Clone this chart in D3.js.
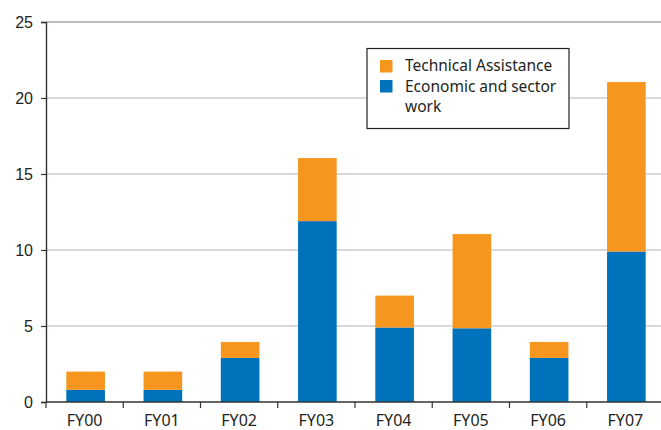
<!DOCTYPE html>
<html>
<head>
<meta charset="utf-8">
<script src="https://cdn.jsdelivr.net/npm/d3@7"></script>
<style>
  body { margin: 0; background: #fff; }
  svg { display: block; font-family: "Noto Sans", sans-serif; }
</style>
</head>
<body>
<svg width="661" height="430"></svg>
<script>
// Data
const years = ["FY00", "FY01", "FY02", "FY03", "FY04", "FY05", "FY06", "FY07"];
const economicSector = [0.8, 0.8, 2.9, 11.9, 4.9, 4.85, 2.9, 9.9];
const technicalAssist = [1.2, 1.2, 1.05, 4.15, 2.1, 6.2, 1.05, 11.15];
const yTicks = [0, 5, 10, 15, 20, 25];

const seriesNames = ["Economic and sector work", "Technical Assistance"];
const colors = { "Economic and sector work": "#0071bb", "Technical Assistance": "#f7961f" };

const svg = d3.select("svg");

// plot area
const margin = { left: 46, top: 22, bottom: 402, right: 664 };

const x = d3.scaleBand()
    .domain(years)
    .range([margin.left, margin.right])
    .paddingInner(0.5)
    .paddingOuter(0.25);

const y = d3.scaleLinear()
    .domain([0, 25])
    .range([margin.bottom, margin.top]);

// gridlines
svg.append("g")
    .selectAll("line")
    .data(yTicks.filter(d => d > 0))
    .join("line")
    .attr("x1", margin.left)
    .attr("x2", 661)
    .attr("y1", d => y(d))
    .attr("y2", d => y(d))
    .style("stroke", d => d === 25 ? "#a8a8a8" : "#cccccc")
    .style("stroke-width", "1.4px");

// stacked bars
const table = years.map((yr, i) => ({
    year: yr,
    "Economic and sector work": economicSector[i],
    "Technical Assistance": technicalAssist[i]
}));
const stacked = d3.stack().keys(seriesNames)(table);

svg.append("g")
    .selectAll("g")
    .data(stacked)
    .join("g")
    .attr("fill", d => colors[d.key])
    .selectAll("rect")
    .data(d => d)
    .join("rect")
    .attr("x", d => x(d.data.year) + 1)
    .attr("width", x.bandwidth())
    .attr("y", d => y(d[1]))
    .attr("height", d => y(d[0]) - y(d[1]));

// y axis
const yAxis = svg.append("g")
    .attr("transform", `translate(${margin.left},0)`)
    .call(d3.axisLeft(y).tickValues(yTicks).tickSize(5).tickPadding(8));
yAxis.select(".domain").attr("stroke", "#333").attr("stroke-width", 1.4);
yAxis.selectAll(".tick line").attr("stroke", "#333").attr("stroke-width", 1.2);
yAxis.selectAll("text").style("font-size", "16px").attr("fill", "#231f20");

// x axis with ticks between categories
const xAxis = svg.append("g")
    .attr("transform", `translate(0,${margin.bottom})`);
xAxis.append("line")
    .attr("x1", margin.left)
    .attr("x2", 661)
    .attr("stroke", "#333")
    .attr("stroke-width", 1.6);
const step = x.step();
xAxis.selectAll(".sep")
    .data(years)
    .join("line")
    .attr("class", "sep")
    .attr("x1", (d, i) => margin.left + i * step)
    .attr("x2", (d, i) => margin.left + i * step)
    .attr("y1", 0)
    .attr("y2", 6)
    .attr("stroke", "#333")
    .attr("stroke-width", 1.2);
xAxis.selectAll("text")
    .data(years)
    .join("text")
    .attr("x", d => x(d) + x.bandwidth() / 2)
    .attr("y", 24)
    .attr("text-anchor", "middle")
    .style("font-size", "16px")
    .attr("fill", "#231f20")
    .text(d => d);

// legend
const legend = svg.append("g");
legend.append("rect")
    .attr("x", 367)
    .attr("y", 48.5)
    .attr("width", 202)
    .attr("height", 80)
    .attr("fill", "#fff")
    .attr("stroke", "#231f20")
    .attr("stroke-width", 1.2);

const legendItems = [
    { name: "Technical Assistance", lines: ["Technical Assistance"] },
    { name: "Economic and sector work", lines: ["Economic and sector", "work"] }
];
legendItems.forEach((item, i) => {
    legend.append("rect")
        .attr("x", 380)
        .attr("y", 60 + i * 20)
        .attr("width", 12.5)
        .attr("height", 12.5)
        .attr("fill", colors[item.name]);
    item.lines.forEach((ln, j) => {
        legend.append("text")
            .attr("x", 405)
            .attr("y", 71 + i * 20.5 + j * 20.5)
            .style("font-size", "15.5px")
            .attr("fill", "#231f20")
            .text(ln);
    });
});
</script>
</body>
</html>
